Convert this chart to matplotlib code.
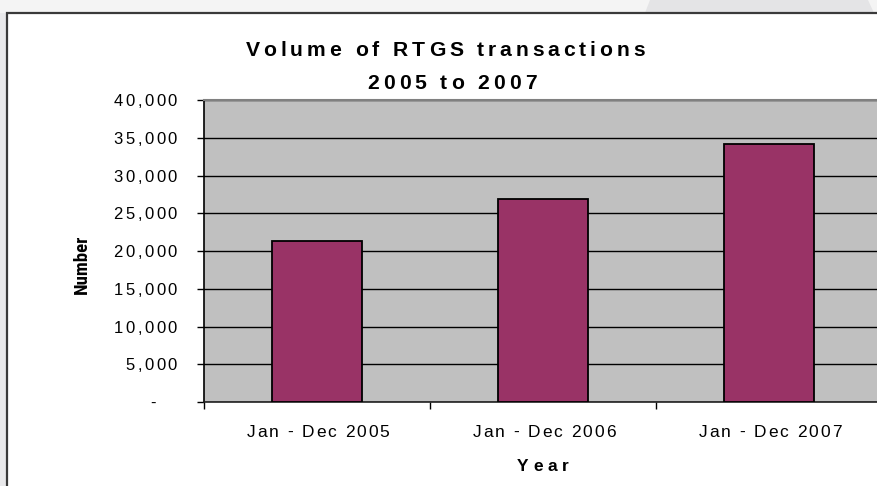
import matplotlib
matplotlib.use('Agg')
import matplotlib.pyplot as plt
from matplotlib.font_manager import FontProperties, fontManager
from matplotlib.patches import Rectangle, Polygon
from matplotlib.transforms import Affine2D

# ---------------- data ----------------
categories = ["Jan - Dec 2005", "Jan - Dec 2006", "Jan - Dec 2007"]
volumes = [21300, 26900, 34200]
y_ticks = [0, 5000, 10000, 15000, 20000, 25000, 30000, 35000, 40000]
y_tick_labels = ["-   ", "5,000", "10,000", "15,000", "20,000",
                 "25,000", "30,000", "35,000", "40,000"]
title_lines = ["Volume of RTGS transactions", "2005 to 2007"]
x_label = "Year"
y_label = "Number"

# ---------------- figure ----------------
W, H = 878, 486
fig = plt.figure(figsize=(W / 100, H / 100), dpi=100)
fig.patch.set_facecolor('#f4f4f4')
pix = Affine2D().scale(1 / W, -1 / H).translate(0, 1) + fig.transFigure

fig.patches.append(Rectangle((0, 13), 7.5, H, transform=pix,
                             facecolor='#e9e9eb', edgecolor='none', zorder=0))
fig.patches.append(Polygon([(650, 0), (868, 0), (874, 13), (645, 13)],
                           closed=True, transform=pix,
                           facecolor='#e4e4e6', edgecolor='none', zorder=0))
fig.patches.append(Rectangle((7.5, 13.5), W + 20, H + 20, transform=pix,
                             facecolor='white', edgecolor='#3a3a3a',
                             linewidth=1.6, zorder=1))

# ---------------- axes ----------------
ax_left, ax_right, ax_top, ax_bottom = 204, 882, 100, 402
ax = fig.add_axes([ax_left / W, 1 - ax_bottom / H,
                   (ax_right - ax_left) / W, (ax_bottom - ax_top) / H])
ax.set_zorder(2)
ax.set_facecolor('#c0c0c0')
x = list(range(len(categories)))
ax.bar(x, volumes, width=0.4, color='#993366', edgecolor='black',
       linewidth=1.3, zorder=3)
ax.set_xlim(-0.5, len(categories) - 0.5)
ax.set_ylim(0, 40000)
ax.set_yticks(y_ticks)
ax.yaxis.grid(True, color='black', linewidth=1.0, zorder=1)
ax.set_axisbelow(True)
ax.tick_params(axis='y', direction='out', length=5, width=1, color='black',
               labelleft=False)
ax.set_xticks(x)
ax.set_xticks([i - 0.5 for i in range(len(categories) + 1)], minor=True)
ax.tick_params(axis='x', which='major', length=0, labelbottom=False)
ax.tick_params(axis='x', which='minor', direction='out', length=5, width=1,
               color='black')
ax.spines['right'].set_visible(False)
ax.spines['top'].set_color('#808080')
ax.spines['top'].set_linewidth(1.5)
ax.spines['left'].set_color('black')
ax.spines['left'].set_linewidth(1.2)
ax.spines['bottom'].set_color('#202020')
ax.spines['bottom'].set_linewidth(1.2)

# ---------------- spaced text helper ----------------
fig.canvas.draw()
renderer = fig.canvas.get_renderer()


def advance(c, prop):
    w1 = renderer.get_text_width_height_descent('l' + c + 'l', prop, ismath=False)[0]
    w0 = renderer.get_text_width_height_descent('ll', prop, ismath=False)[0]
    return w1 - w0


def spaced(xp, yb, s, prop, spacing, ha='center', zorder=5):
    advs = [advance(c, prop) for c in s]
    total = sum(advs) + spacing * (len(s) - 1)
    if ha == 'center':
        x0 = xp - total / 2
    elif ha == 'right':
        x0 = xp - total
    else:
        x0 = xp
    cx = x0
    for c, a in zip(s, advs):
        if c != ' ':
            fig.text(cx + a / 2, yb, c, fontproperties=prop, ha='center',
                     va='baseline', transform=pix, color='black', zorder=zorder)
        cx += a + spacing


def data_to_pix(xd, yd):
    dx, dy = ax.transData.transform((xd, yd))
    return dx * W / fig.bbox.width, H - dy * H / fig.bbox.height


fam = ['Liberation Sans', 'Arial', 'DejaVu Sans']
title_prop = FontProperties(family=fam, weight='bold', size=15.2)
tick_prop = FontProperties(family=fam, size=12)
xtick_prop = FontProperties(family=fam, size=12.5)
xlabel_prop = FontProperties(family=fam, weight='bold', size=12.5)

installed = {f.name for f in fontManager.ttflist}
narrow = [n for n in ['Liberation Sans Narrow', 'Roboto Condensed',
                      'Open Sans Condensed', 'DejaVu Sans Condensed']
          if n in installed]
if narrow:
    ylabel_prop = FontProperties(family=[narrow[0], 'DejaVu Sans'],
                                 weight='bold', size=13.5)
else:
    cond = [f for f in fontManager.ttflist
            if f.name in ('DejaVu Sans', 'Roboto', 'Open Sans', 'Noto Sans')
            and 'condensed' in str(f.stretch) and f.weight in (600, 700, 'bold')]
    if cond:
        ylabel_prop = FontProperties(family=[cond[0].name, 'DejaVu Sans'],
                                     stretch='condensed', weight='bold', size=13)
    else:
        ylabel_prop = FontProperties(family=fam, weight='bold', size=12.5)

# title
spaced(445, 56, title_lines[0], title_prop, 3.9)
spaced(452, 89, title_lines[1], title_prop, 3.9)

# y tick labels
for v, lab in zip(y_ticks, y_tick_labels):
    _, py = data_to_pix(0, v)
    spaced(177, py + 6, lab, tick_prop, 2.5, ha='right')

# x tick labels
for xi, lab in zip(x, categories):
    px, _ = data_to_pix(xi, 0)
    spaced(px + 1, 436.5, lab, xtick_prop, 1.9)

# axis titles
cx_plot, _ = data_to_pix((len(categories) - 1) / 2, 0)
spaced(cx_plot, 471, x_label, xlabel_prop, 4.8)
fig.text(82, 264, y_label, fontproperties=ylabel_prop, rotation=90,
         ha='center', va='center', transform=pix, zorder=5)

fig.savefig('out.png', dpi=100, facecolor=fig.get_facecolor())
